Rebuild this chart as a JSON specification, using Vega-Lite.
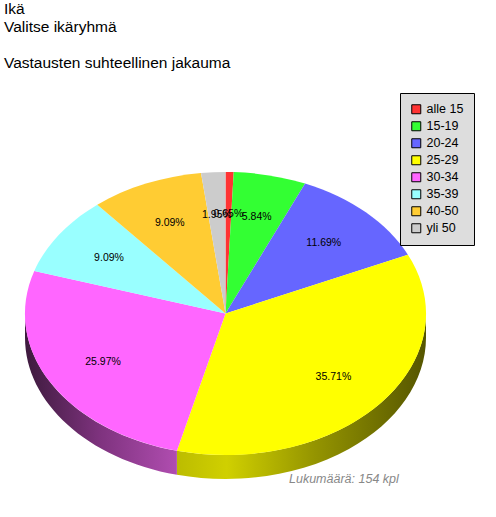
{
  "$schema": "https://vega.github.io/schema/vega-lite/v6.json",
  "width": 496,
  "height": 443,
  "autosize": {"type": "none"},
  "padding": {"top": 74, "left": 0, "right": 0, "bottom": 0},
  "background": "white",
  "title": {
    "text": ["Ikä", "Valitse ikäryhmä"],
    "subtitle": "Vastausten suhteellinen jakauma",
    "anchor": "start",
    "frame": "group",
    "font": "Liberation Sans",
    "fontSize": 15.5,
    "fontWeight": "normal",
    "color": "black",
    "lineHeight": 18.5,
    "subtitleFont": "Liberation Sans",
    "subtitleFontSize": 15.5,
    "subtitleColor": "black",
    "subtitleLineHeight": 18,
    "subtitlePadding": 20,
    "dx": 4,
    "offset": 3
  },
  "datasets": {
    "slices": [
      {"group": "alle 15", "count": 1, "share": 0.0065, "u": 0.0143, "v": 0.6999},
      {"group": "15-19", "count": 9, "share": 0.0584, "u": 0.1558, "v": 0.6824},
      {"group": "20-24", "count": 18, "share": 0.1169, "u": 0.49, "v": 0.4999},
      {"group": "25-29", "count": 55, "share": 0.3571, "u": 0.5382, "v": -0.4475},
      {"group": "30-34", "count": 40, "share": 0.2597, "u": -0.6109, "v": -0.3417},
      {"group": "35-39", "count": 14, "share": 0.0909, "u": -0.581, "v": 0.3904},
      {"group": "40-50", "count": 14, "share": 0.0909, "u": -0.2778, "v": 0.6425},
      {"group": "yli 50", "count": 3, "share": 0.0195, "u": -0.0428, "v": 0.6987}
    ],
    "notes": [
      {"note": "Lukumäärä: 154 kpl", "u": 0.3167, "v": -1.17}
    ]
  },
  "data": {"name": "slices"},
  "layer": [
    {
      "transform": [{"filter": "datum.group === '25-29'"}],
      "mark": {
        "type": "point",
        "filled": true,
        "opacity": 1,
        "size": 4,
        "shape": "M200.5,0A200.5,141.5,0,0,1,-48.6,137.3L-48.6,161.3A200.5,141.5,0,0,0,200.5,24Z",
        "fill": {
          "gradient": "linear",
          "x1": 0, "y1": 0, "x2": 1, "y2": 0,
          "stops": [
            {"offset": 0, "color": "#bcbc00"},
            {"offset": 0.2, "color": "#d0d000"},
            {"offset": 0.55, "color": "#959500"},
            {"offset": 1, "color": "#555500"}
          ]
        }
      },
      "encoding": {
        "x": {"datum": 0, "type": "quantitative", "axis": null, "scale": {"domain": [-1.1247, 1.3491], "nice": false, "zero": false}},
        "y": {"datum": 0, "type": "quantitative", "axis": null, "scale": {"domain": [-1.4382, 1.6926], "nice": false, "zero": false}}
      }
    },
    {
      "transform": [{"filter": "datum.group === '30-34'"}],
      "mark": {
        "type": "point",
        "filled": true,
        "opacity": 1,
        "size": 4,
        "shape": "M-48.6,137.3A200.5,141.5,0,0,1,-200.5,0L-200.5,24A200.5,141.5,0,0,0,-48.6,161.3Z",
        "fill": {
          "gradient": "linear",
          "x1": 0, "y1": 0, "x2": 1, "y2": 0,
          "stops": [
            {"offset": 0, "color": "#3d1a3d"},
            {"offset": 0.5, "color": "#7f337f"},
            {"offset": 1, "color": "#b04db0"}
          ]
        }
      },
      "encoding": {
        "x": {"datum": 0, "type": "quantitative"},
        "y": {"datum": 0, "type": "quantitative"}
      }
    },
    {
      "mark": {"type": "point", "filled": true, "opacity": 1, "size": 4},
      "encoding": {
        "x": {"datum": 0, "type": "quantitative"},
        "y": {"datum": 0, "type": "quantitative"},
        "fill": {
          "field": "group",
          "type": "nominal",
          "scale": {
            "domain": ["alle 15", "15-19", "20-24", "25-29", "30-34", "35-39", "40-50", "yli 50"],
            "range": ["#ff3333", "#33ff33", "#6666ff", "#ffff00", "#ff66ff", "#99ffff", "#ffcc33", "#cccccc"]
          },
          "legend": {
            "title": null,
            "orient": "none",
            "legendX": 400,
            "legendY": 19,
            "fillColor": "#dddddd",
            "strokeColor": "black",
            "padding": 10,
            "symbolType": "square",
            "symbolSize": 81,
            "symbolStrokeColor": "black",
            "symbolStrokeWidth": 1,
            "symbolOpacity": 1,
            "rowPadding": 3,
            "labelFont": "Liberation Sans",
            "labelFontSize": 12.5,
            "labelColor": "black",
            "labelOffset": 4
          }
        },
        "shape": {
          "field": "group",
          "type": "nominal",
          "scale": {
            "domain": ["yli 50", "40-50", "35-39", "30-34", "25-29", "20-24", "15-19", "alle 15"],
            "range": [
              "M0,0L-24.5,-140.4A200.5,141.5,0,0,1,0,-141.5Z",
              "M0,0L-128.2,-108.8A200.5,141.5,0,0,1,-24.5,-140.4Z",
              "M0,0L-191.2,-42.6A200.5,141.5,0,0,1,-128.2,-108.8Z",
              "M0,0L-48.6,137.3A200.5,141.5,0,0,1,-191.2,-42.6Z",
              "M0,0L182.4,-58.8A200.5,141.5,0,0,1,-48.6,137.3Z",
              "M0,0L79.6,-129.9A200.5,141.5,0,0,1,182.4,-58.8Z",
              "M0,0L8.2,-141.4A200.5,141.5,0,0,1,79.6,-129.9Z",
              "M0,0L0,-141.5A200.5,141.5,0,0,1,8.2,-141.4Z"
            ]
          },
          "legend": null
        }
      }
    },
    {
      "mark": {"type": "text", "font": "Liberation Sans", "fontSize": 10.5, "color": "black"},
      "encoding": {
        "x": {"field": "u", "type": "quantitative"},
        "y": {"field": "v", "type": "quantitative"},
        "text": {"field": "share", "type": "quantitative", "format": ".2%"}
      }
    },
    {
      "data": {"name": "notes"},
      "mark": {"type": "text", "font": "Liberation Sans", "fontSize": 12.5, "fontStyle": "italic", "color": "#888888", "align": "left"},
      "encoding": {
        "x": {"field": "u", "type": "quantitative"},
        "y": {"field": "v", "type": "quantitative"},
        "text": {"field": "note"}
      }
    }
  ],
  "config": {"view": {"stroke": null}}
}
